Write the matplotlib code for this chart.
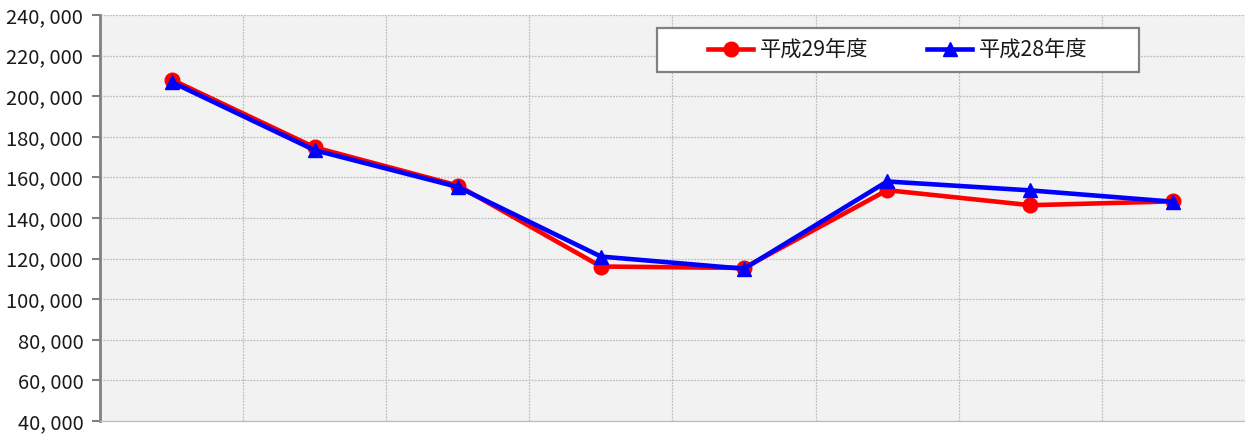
import matplotlib
matplotlib.use("Agg")
import matplotlib.pyplot as plt
from matplotlib.ticker import FixedLocator, FuncFormatter
from matplotlib.patches import Rectangle

plt.rcParams['font.family'] = ['Noto Sans CJK JP', 'DejaVu Sans']

categories = ["1", "2", "3", "4", "5", "6", "7", "8"]
h29 = [208200, 174800, 156000, 116100, 115400, 153700, 146300, 148200]
h28 = [207000, 173400, 155300, 121000, 115000, 158000, 153600, 148000]
labels = ["平成29年度", "平成28年度"]
yticks = list(range(40000, 240001, 20000))

fig = plt.figure(figsize=(12.45, 4.36), dpi=100)
ax = fig.add_axes([0.0803, 0.0344, 0.9197, 0.9312])
ax.set_facecolor('#f2f2f2')

x = list(range(len(categories)))
ax.plot(x, h29, color='#ff0000', lw=3.3, marker='o', ms=10.5, label=labels[0], zorder=3)
ax.plot(x, h28, color='#0000ff', lw=3.3, marker='^', ms=10.5, label=labels[1], zorder=4)

ax.set_xlim(-0.5, len(categories) - 0.5)
ax.set_ylim(40000, 240000)
ax.set_yticks(yticks)
ax.yaxis.set_major_formatter(FuncFormatter(lambda v, p: f"{int(v):,}".replace(",", ", ")))
ax.set_xticks([])
ax.xaxis.set_minor_locator(FixedLocator([i + 0.5 for i in range(len(categories) - 1)]))

ax.grid(True, axis='y', which='major', color='#bdbdbd', linestyle=(0, (1.5, 1)), lw=0.9)
ax.grid(True, axis='x', which='minor', color='#bdbdbd', linestyle=(0, (1.5, 1)), lw=0.9)
ax.tick_params(axis='x', which='both', length=0)
ax.tick_params(axis='y', length=6, width=1.5, color='#808080', labelsize=14.5, pad=6)
for t in ax.get_yticklabels():
    t.set_color('#1a1a1a')

for s in ['top', 'right']:
    ax.spines[s].set_visible(False)
ax.spines['bottom'].set_color('#bdbdbd')
ax.spines['bottom'].set_linestyle((0, (1.5, 1)))
ax.spines['bottom'].set_linewidth(0.9)
ax.spines['left'].set_color('#808080')
ax.spines['left'].set_linewidth(2)
ax.set_axisbelow(True)

box = Rectangle((0.4865, 0.8596), 0.4205, 0.108, transform=ax.transAxes,
                facecolor='white', edgecolor='#808080', lw=1.6, zorder=5)
ax.add_patch(box)
leg = ax.legend(loc='center', bbox_to_anchor=(0.4865 + 0.4205 / 2, 0.8596 + 0.054), ncol=2,
                fontsize=15.3, frameon=False, handlelength=2.1, columnspacing=2.8,
                borderpad=0, borderaxespad=0, handletextpad=0.3)
leg.set_zorder(6)
for t in leg.get_texts():
    t.set_color('#1a1a1a')

fig.savefig('out.png', dpi=100)
